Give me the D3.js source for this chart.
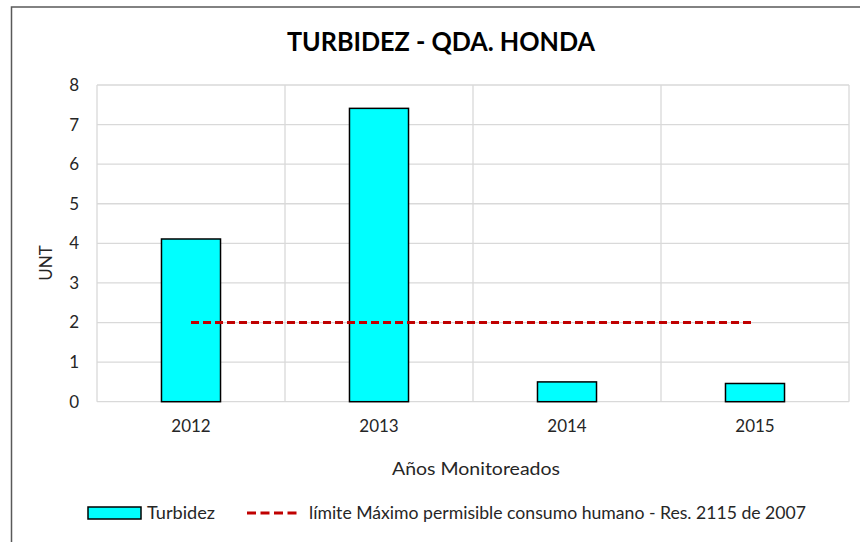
<!DOCTYPE html>
<html>
<head>
<meta charset="utf-8">
<script src="https://cdn.jsdelivr.net/npm/d3@7"></script>
<style>
  html, body { margin: 0; padding: 0; background: #fff; }
  svg { display: block; font-family: Lato, "Open Sans", sans-serif; }
</style>
</head>
<body>
<svg id="chart" width="860" height="542"></svg>
<script>
const categories = ["2012", "2013", "2014", "2015"];
const turbidez = [4.11, 7.41, 0.5, 0.46];
const limite = [2, 2, 2, 2];
const yTicks = [0, 1, 2, 3, 4, 5, 6, 7, 8];
const titleText = "TURBIDEZ - QDA. HONDA";
const yTitle = "UNT";
const xTitle = "Años Monitoreados";
const legendLabels = ["Turbidez", "límite Máximo permisible consumo humano - Res. 2115 de 2007"];

const svg = d3.select("#chart");
const plot = { left: 97, right: 849, top: 85, bottom: 401.7 };

// Outer chart border
svg.append("path")
  .attr("d", "M11.5,545 L11.5,7 L865,7")
  .attr("fill", "none").attr("stroke", "#595959").attr("stroke-width", 1.5);

const x = d3.scaleBand().domain(categories).range([plot.left, plot.right]).paddingInner(0).paddingOuter(0);
const y = d3.scaleLinear().domain([0, 8]).range([plot.bottom, plot.top]);

// Horizontal gridlines
svg.append("g").selectAll("line").data(yTicks).join("line")
  .attr("x1", plot.left).attr("x2", plot.right)
  .attr("y1", d => y(d)).attr("y2", d => y(d))
  .attr("stroke", "#d9d9d9").attr("stroke-width", 1.3);

// Vertical gridlines at category boundaries
const bounds = categories.map(c => x(c)).concat([x(categories[categories.length - 1]) + x.bandwidth()]);
svg.append("g").selectAll("line").data(bounds).join("line")
  .attr("x1", d => d).attr("x2", d => d)
  .attr("y1", plot.top).attr("y2", plot.bottom)
  .attr("stroke", "#d9d9d9").attr("stroke-width", 1.3);

// Y axis labels
const yAxis = d3.axisLeft(y).tickValues(yTicks).tickSize(0).tickPadding(18).tickFormat(d3.format("d"));
const gy = svg.append("g").attr("transform", `translate(${plot.left},0)`).call(yAxis);
gy.select(".domain").remove();
gy.selectAll("text").attr("font-size", 17).attr("fill", "#262626").attr("font-family", "Lato, sans-serif");

// X axis labels
const xAxis = d3.axisBottom(x).tickSize(0).tickPadding(18);
const gx = svg.append("g").attr("transform", `translate(0,${plot.bottom})`).call(xAxis);
gx.select(".domain").remove();
gx.selectAll("text").attr("font-size", 17).attr("fill", "#262626").attr("font-family", "Lato, sans-serif");

// Bars
const barW = x.bandwidth() * 0.314;
svg.append("g").selectAll("rect").data(turbidez).join("rect")
  .attr("x", (d, i) => x(categories[i]) + x.bandwidth() / 2 - barW / 2)
  .attr("y", d => y(d))
  .attr("width", barW)
  .attr("height", d => y(0) - y(d))
  .attr("fill", "#00FFFF")
  .attr("stroke", "#000").attr("stroke-width", 1.5);

// Limit line
const line = d3.line()
  .x((d, i) => x(categories[i]) + x.bandwidth() / 2)
  .y(d => y(d));
svg.append("path").datum(limite)
  .attr("d", line)
  .attr("fill", "none")
  .attr("stroke", "#C00000").attr("stroke-width", 3)
  .attr("stroke-dasharray", "8,4");

// Title
svg.append("text").attr("x", 441).attr("y", 51)
  .attr("text-anchor", "middle").attr("font-weight", "bold")
  .attr("font-size", 27).attr("fill", "#000")
  .attr("textLength", 308).attr("lengthAdjust", "spacingAndGlyphs")
  .text(titleText);

// Y title
svg.append("text")
  .attr("transform", "translate(52,263) rotate(-90)")
  .attr("text-anchor", "middle").attr("font-size", 17).attr("fill", "#262626")
  .text(yTitle);

// X title
svg.append("text").attr("x", 476).attr("y", 475)
  .attr("text-anchor", "middle").attr("font-size", 17).attr("fill", "#262626")
  .attr("textLength", 168).attr("lengthAdjust", "spacingAndGlyphs")
  .text(xTitle);

// Legend
const lg = svg.append("g");
lg.append("rect").attr("x", 88).attr("y", 507).attr("width", 53).attr("height", 12)
  .attr("fill", "#00FFFF").attr("stroke", "#000").attr("stroke-width", 1.5);
lg.append("text").attr("x", 147).attr("y", 519).attr("font-size", 17).attr("fill", "#262626")
  .attr("textLength", 68).attr("lengthAdjust", "spacingAndGlyphs")
  .text(legendLabels[0]);
lg.append("line").attr("x1", 247).attr("x2", 298).attr("y1", 513).attr("y2", 513)
  .attr("stroke", "#C00000").attr("stroke-width", 3).attr("stroke-dasharray", "9,4.5");
lg.append("text").attr("x", 309).attr("y", 519).attr("font-size", 17).attr("fill", "#262626")
  .attr("textLength", 497).attr("lengthAdjust", "spacingAndGlyphs")
  .text(legendLabels[1]);
</script>
</body>
</html>
